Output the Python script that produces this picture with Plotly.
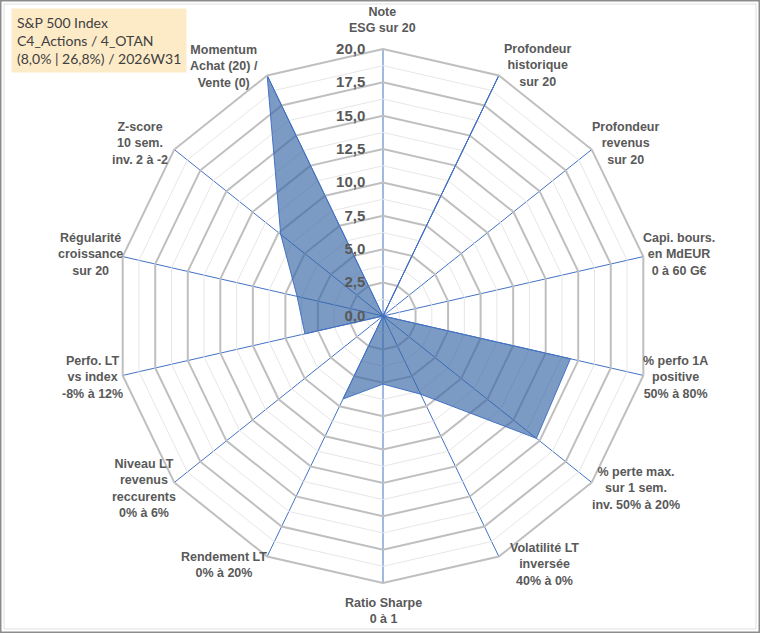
import math
import plotly.graph_objects as go

categories = [
    "Note<br>ESG sur 20",
    "Profondeur<br>historique<br>sur 20",
    "Profondeur<br>revenus<br>sur 20",
    "Capi. bours.<br>en MdEUR<br>0 à 60 G€",
    "% perfo 1A<br>positive<br>50% à 80%",
    "% perte max.<br>sur 1 sem.<br>inv. 50% à 20%",
    "Volatilité LT<br>inversée<br>40% à 0%",
    "Ratio Sharpe<br>0 à 1",
    "Rendement LT<br>0% à 20%",
    "Niveau LT<br>revenus<br>reccurents<br>0% à 6%",
    "Perfo. LT<br>vs index<br>-8% à 12%",
    "Régularité<br>croissance<br>sur 20",
    "Z-score<br>10 sem.<br>inv. 2 à -2",
    "Momentum<br>Achat (20) /<br>Vente (0)",
]
values = [0, 20, 0, 0, 14.4, 14.7, 6.5, 5.1, 6.9, 0, 6.0, 6.6, 9.8, 20]
major_ticks = [0, 2.5, 5, 7.5, 10, 12.5, 15, 17.5, 20]
minor_rings = [1.25, 3.75, 6.25, 8.75, 11.25, 13.75, 16.25, 18.75]
title_lines = ["S&P 500 Index", "C4_Actions / 4_OTAN", "(8,0% | 26,8%) / 2026W31"]

W, H = 760, 633
CX, CY, R = 383, 316, 267  # polar centre and radius in pixels (layout)

# label placement style: (xanchor, yanchor, xshift, yshift)
label_style = [
    ("center", "bottom", 0, 12),
    ("left", "middle", 3, 10),
    ("left", "middle", -2, 6),
    ("left", "middle", -2, 2),
    ("left", "middle", -2, -2),
    ("left", "middle", -2, -6),
    ("left", "middle", 9, -8),
    ("center", "top", 0, -11),
    ("right", "middle", 2, -8),
    ("right", "middle", 4, -6),
    ("right", "middle", 2, -2),
    ("right", "middle", 2, 2),
    ("right", "middle", -4, 6),
    ("right", "middle", -7, 9),
]

fig = go.Figure()

for rv in minor_rings:
    fig.add_trace(go.Scatterpolar(
        r=[rv] * (len(categories) + 1),
        theta=categories + [categories[0]],
        mode="lines",
        line=dict(color="#E6E6E6", width=1),
        hoverinfo="skip",
        showlegend=False,
    ))

fig.add_trace(go.Scatterpolar(
    r=values + [values[0]],
    theta=categories + [categories[0]],
    mode="lines",
    fill="toself",
    fillcolor="rgba(52,101,164,0.65)",
    line=dict(color="#4472C4", width=1),
    showlegend=False,
))

annotations = [
    dict(
        text="<br>".join(title_lines),
        xref="paper", yref="paper", x=11 / W, y=1 - 8 / H,
        xanchor="left", yanchor="top", align="left",
        showarrow=False,
        bgcolor="#FDEBC8",
        borderpad=5,
        font=dict(family="Lato, Open Sans, sans-serif", size=14, color="#404040"),
    )
]
n = len(categories)
for i, (lab, st) in enumerate(zip(categories, label_style)):
    a = 2 * math.pi * i / n
    px = CX + R * math.sin(a)
    py = CY - R * math.cos(a)
    annotations.append(dict(
        text=lab, xref="paper", yref="paper",
        x=px / W, y=1 - py / H,
        xanchor=st[0], yanchor=st[1], xshift=st[2], yshift=st[3],
        align="center", showarrow=False,
        font=dict(family="Liberation Sans, Arial, sans-serif", size=12.5,
                  color="#595959", weight="bold"),
    ))

fig.update_layout(
    width=W,
    height=H,
    margin=dict(l=0, r=0, t=0, b=0),
    paper_bgcolor="white",
    plot_bgcolor="white",
    separators=", ",
    font=dict(family="Liberation Sans, Arial, sans-serif", color="#595959"),
    polar=dict(
        domain=dict(x=[(CX - R) / W, (CX + R) / W], y=[1 - (CY + R) / H, 1 - (CY - R) / H]),
        bgcolor="white",
        gridshape="linear",
        radialaxis=dict(
            range=[0, 20],
            tickvals=major_ticks,
            tickformat=".1f",
            angle=90,
            tickangle=90,
            side="counterclockwise",
            showline=False,
            ticks="outside",
            ticklen=12,
            tickcolor="rgba(0,0,0,0)",
            gridcolor="#BFBFBF",
            gridwidth=2,
            tickfont=dict(size=15, color="#595959", weight="bold"),
        ),
        angularaxis=dict(
            direction="clockwise",
            rotation=90,
            gridcolor="#4472C4",
            gridwidth=1,
            showline=True,
            linecolor="#BFBFBF",
            linewidth=2,
            ticks="",
            showticklabels=False,
        ),
    ),
    shapes=[
        dict(type="rect", xref="paper", yref="paper", x0=0, y0=0, x1=1, y1=1,
             line=dict(color="#8C8C8C", width=3)),
        dict(type="rect", xref="paper", yref="paper",
             x0=4 / W, y0=4 / H, x1=1 - 4 / W, y1=1 - 4 / H,
             line=dict(color="#E0E0E0", width=1)),
    ],
    annotations=annotations,
)

fig.write_html(
    "out.html",
    config={"displayModeBar": False},
    post_script="document.body.style.margin='0';document.body.style.overflow='hidden';",
)
